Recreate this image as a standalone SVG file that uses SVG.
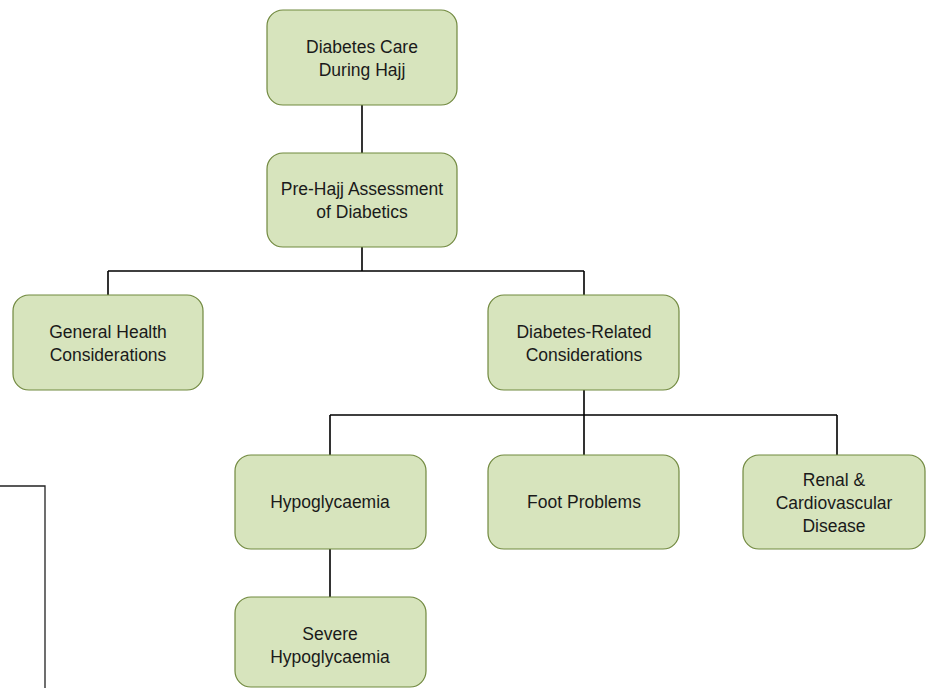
<svg xmlns="http://www.w3.org/2000/svg" width="926" height="688" viewBox="0 0 926 688">
<style>
.box{fill:#d7e4bd;stroke:#71893f;stroke-width:1.2}
.t{font-family:"Liberation Sans",Arial,sans-serif;font-size:17.5px;fill:#1a1a1a;text-anchor:middle}
.c{stroke:#000;stroke-width:1.6;fill:none}
</style>
<rect width="926" height="688" fill="#fff"/>
<path d="M0 486 H45 V688" fill="none" stroke="#222" stroke-width="1.3"/>
<g id="connectors">
<path class="c" d="M362 105 V153"/>
<path class="c" d="M362 247 V271 M108 271 H584 M108 271 V295 M584 271 V295"/>
<path class="c" d="M584 390 V415 M330 415 H837 M330 415 V455 M584 415 V455 M837 415 V455"/>
<path class="c" d="M330 549 V597"/>
</g>
<g id="n1"><rect class="box" x="267" y="10" width="190" height="95" rx="16"/><text class="t" x="362" y="53">Diabetes Care</text><text class="t" x="362" y="76">During Hajj</text></g>
<g id="n2"><rect class="box" x="267" y="153" width="190" height="94" rx="16"/><text class="t" x="362" y="195">Pre-Hajj Assessment</text><text class="t" x="362" y="218">of Diabetics</text></g>
<g id="n3"><rect class="box" x="13" y="295" width="190" height="95" rx="16"/><text class="t" x="108" y="338">General Health</text><text class="t" x="108" y="361">Considerations</text></g>
<g id="n4"><rect class="box" x="488" y="295" width="191" height="95" rx="16"/><text class="t" x="584" y="338">Diabetes-Related</text><text class="t" x="584" y="361">Considerations</text></g>
<g id="n5"><rect class="box" x="235" y="455" width="191" height="94" rx="16"/><text class="t" x="330" y="508">Hypoglycaemia</text></g>
<g id="n6"><rect class="box" x="488" y="455" width="191" height="94" rx="16"/><text class="t" x="584" y="508">Foot Problems</text></g>
<g id="n7"><rect class="box" x="743" y="455" width="182" height="94" rx="16"/><text class="t" x="834" y="486">Renal &amp;</text><text class="t" x="834" y="509">Cardiovascular</text><text class="t" x="834" y="532">Disease</text></g>
<g id="n8"><rect class="box" x="235" y="597" width="191" height="90" rx="16"/><text class="t" x="330" y="640">Severe</text><text class="t" x="330" y="663">Hypoglycaemia</text></g>
</svg>
